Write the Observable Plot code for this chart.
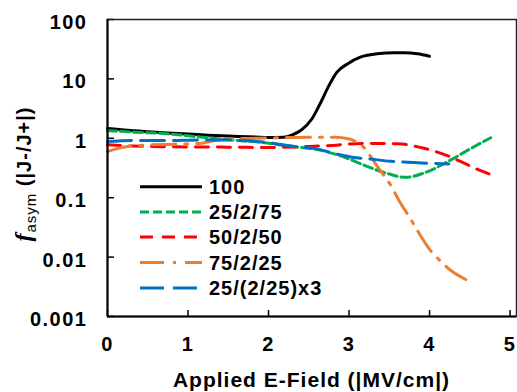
<!DOCTYPE html>
<html>
<head>
<meta charset="utf-8">
<script src="https://cdn.jsdelivr.net/npm/d3@7"></script>
<script src="https://cdn.jsdelivr.net/npm/@observablehq/plot@0.6"></script>
<style>
  html, body { margin: 0; padding: 0; background: white; }
  #chart svg text { letter-spacing: 1px; font-family: 'Liberation Sans', Arial, sans-serif; }
</style>
</head>
<body>
<div id="chart"></div>
<script>
// ---- data ----
const seriesNames = ["100", "25/2/75", "50/2/50", "75/2/25", "25/(2/25)x3"];
const seriesColors = ["#000000", "#00B050", "#FF0000", "#ED7D31", "#0070C0"];

const x100 = [0, 0.25, 0.5, 0.75, 1.0, 1.25, 1.5, 1.75, 2.0, 2.19, 2.3, 2.40, 2.54, 2.65, 2.75, 2.85, 2.98, 3.14, 3.35, 3.56, 3.68, 3.85, 4.0];
const y100 = [1.46, 1.36, 1.29, 1.23, 1.18, 1.13, 1.09, 1.06, 1.03, 1.04, 1.15, 1.35, 2.13, 4.05, 7.7, 13.0, 17.9, 23.2, 26.5, 27.5, 27.5, 26.5, 24.1];

const x25275 = [0, 0.33, 0.74, 1.15, 1.57, 1.9, 2.25, 2.67, 2.96, 3.24, 3.5, 3.7, 3.93, 4.22, 4.5, 4.76];
const y25275 = [1.35, 1.27, 1.19, 1.05, 0.93, 0.86, 0.74, 0.62, 0.47, 0.33, 0.25, 0.22, 0.26, 0.40, 0.66, 1.02];

const x50250 = [0, 0.3, 0.8, 1.5, 2.0, 2.5, 2.8, 3.0, 3.25, 3.6, 3.93, 4.22, 4.47, 4.62, 4.82];
const y50250 = [0.78, 0.74, 0.72, 0.71, 0.70, 0.73, 0.76, 0.80, 0.82, 0.81, 0.68, 0.51, 0.36, 0.29, 0.23];

const x75225 = [0, 0.12, 0.25, 0.5, 0.75, 1.15, 1.3, 1.57, 2.0, 2.5, 2.83, 2.99, 3.1, 3.18, 3.33, 3.43, 3.52, 3.62, 3.76, 3.85, 4.01, 4.12, 4.26, 4.45];
const y75225 = [0.60, 0.67, 0.73, 0.77, 0.79, 0.82, 0.90, 0.98, 1.01, 1.04, 1.04, 0.98, 0.86, 0.71, 0.37, 0.24, 0.16, 0.09, 0.045, 0.028, 0.013, 0.009, 0.006, 0.0042];

const xSL = [0, 0.33, 0.74, 1.15, 1.57, 1.95, 2.34, 2.58, 2.83, 3.04, 3.25, 3.52, 3.68, 3.97, 4.24];
const ySL = [0.88, 0.92, 0.92, 0.94, 0.93, 0.86, 0.72, 0.67, 0.55, 0.48, 0.45, 0.41, 0.40, 0.38, 0.37];

const xTicks = [0, 1, 2, 3, 4, 5];
const yTicks = [0.001, 0.01, 0.1, 1, 10, 100];

// ---- build ----
const seriesX = [x100, x25275, x50250, x75225, xSL];
const seriesY = [y100, y25275, y50250, y75225, ySL];
const dashes = [null, "9,4", "13,9", "24,9,3,9", "24,9"];

const W = 517, H = 392;
const mL = 107, mR = 1, mT = 19, mB = 76;
const plotW = W - mL - mR, plotH = H - mT - mB;

const tables = seriesNames.map((name, k) =>
  seriesX[k].map((x, i) => ({series: name, x, y: seriesY[k][i]})));

const lineMarks = tables.map((rows, k) => Plot.line(rows, {
  x: "x", y: "y",
  stroke: seriesColors[k],
  strokeWidth: 3,
  strokeDasharray: dashes[k] || undefined,
  curve: "monotone-x"
}));

const chart = Plot.plot({
  width: W, height: H,
  marginLeft: mL, marginRight: mR, marginTop: mT, marginBottom: mB,
  x: {domain: [0, 5.08], axis: null},
  y: {type: "log", domain: [0.001, 100], axis: null},
  style: {fontFamily: "'Liberation Sans', Arial, sans-serif", color: "black", background: "white", overflow: "visible"},
  marks: [
    Plot.text(xTicks, {x: d => d, text: d => String(d), frameAnchor: "bottom", dy: 28, lineAnchor: "middle",
      fontSize: 20, fontWeight: "bold", fill: "black"}),
    Plot.text(yTicks, {y: d => d, text: d => String(d), frameAnchor: "left", dx: -20, dy: 3, textAnchor: "end", lineAnchor: "middle",
      fontSize: 20, fontWeight: "bold", fill: "black"}),
    Plot.tickX(xTicks, {x: d => d, insetTop: plotH - 6, stroke: "black", strokeWidth: 1.5}),
    Plot.tickY(yTicks, {y: d => d, insetRight: plotW - 7, stroke: "black", strokeWidth: 1.5}),
    ...lineMarks,
    Plot.frame({stroke: "#222", strokeWidth: 1.5}),
    Plot.ruleX([0], {stroke: "black", strokeWidth: 2}),
    Plot.ruleY([0.001], {stroke: "black", strokeWidth: 2})
  ]
});

document.getElementById("chart").appendChild(chart);

const svg = d3.select(chart);
// force tick label text size inline
svg.selectAll("text").style("font-size", "20px").style("font-weight", "bold").style("letter-spacing", "1.5px");

// X title
svg.append("text")
  .attr("x", mL + plotW / 2).attr("y", 387)
  .attr("text-anchor", "middle")
  .style("font-size", "21px").style("font-weight", "bold")
  .text("Applied E-Field (|MV/cm|)");

// Y title
const yt = svg.append("text")
  .attr("transform", "translate(31,174) rotate(-90)")
  .attr("text-anchor", "middle")
  .style("font-size", "20px").style("font-weight", "bold");
yt.append("tspan").style("font-family", "'Liberation Serif', serif").style("font-style", "italic").style("font-size", "24px").text("f");
yt.append("tspan").attr("dy", 5).style("font-size", "15px").style("font-weight", "normal").text("asym");
yt.append("tspan").attr("dy", -5).text(" (|J-/J+|)");

// Legend
const legendY = [186.7, 212, 237, 262.5, 288];
const lg = svg.append("g");
seriesNames.forEach((name, k) => {
  lg.append("line")
    .attr("x1", 140).attr("x2", 202)
    .attr("y1", legendY[k]).attr("y2", legendY[k])
    .attr("stroke", seriesColors[k]).attr("stroke-width", 3)
    .attr("stroke-dasharray", dashes[k]);
  lg.append("text")
    .attr("x", 209).attr("y", legendY[k] + 7)
    .attr("text-anchor", "start")
    .style("font-size", "20px").style("font-weight", "bold")
    .text(name);
});
</script>
</body>
</html>
